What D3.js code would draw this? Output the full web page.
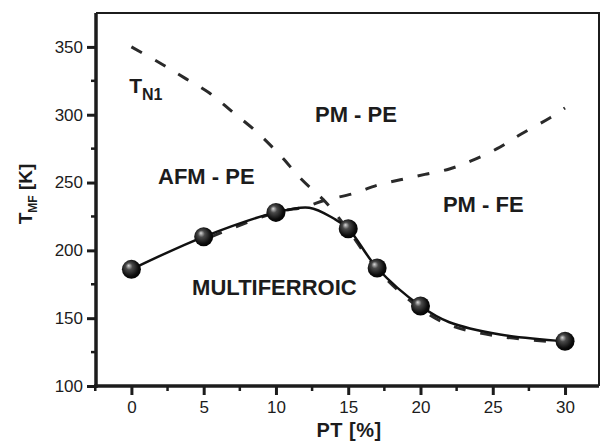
<!DOCTYPE html>
<html>
<head>
<meta charset="utf-8">
<script src="https://cdn.jsdelivr.net/npm/d3@7"></script>
<style>
  body { margin: 0; background: #fff; }
  svg { display: block; font-family: "Liberation Sans", Arial, sans-serif; }
</style>
</head>
<body>
<script>
// measured transition temperatures (balls)
const ptValues = [0, 5, 10, 15, 17, 20, 30];
const tmfValues = [186, 210, 228, 216, 187, 159, 133];

// solid guide line through the balls
const fitPt = [0, 5, 10, 12.3, 14, 15, 17, 20, 22, 25.5, 30];
const fitT = [186, 210, 228, 231.5, 223.5, 216, 187, 159, 147, 138, 133];

// T_N1 boundary (dashed, top left down to the right)
const tn1Pt = [0, 2, 3.7, 5.4, 7, 8.7, 10.3, 11.8, 13.4, 15, 17, 20, 22, 25.5, 30];
const tn1T = [350, 338, 327, 316, 302, 287, 270, 252, 236, 215, 186, 157, 145, 136.5, 132];

// PM-PE / PM-FE boundary (dashed, rising to the right)
const fePt = [5.5, 10, 12, 13.4, 15.4, 17, 18.6, 20.3, 22, 23.5, 25.3, 27, 29, 30];
const feT = [210, 228, 232, 237, 242, 248, 252, 256, 260, 266, 275, 286, 298, 305];

const xTicks = [0, 5, 10, 15, 20, 25, 30];
const xMinor = [-2.5, 2.5, 7.5, 12.5, 17.5, 22.5, 27.5];
const yTicks = [100, 150, 200, 250, 300, 350];
const yMinor = [125, 175, 225, 275, 325];

const labels = [
  {text: 'PM - PE', pt: 12.7, t: 295},
  {text: 'AFM - PE', pt: 1.84, t: 248.6},
  {text: 'PM - FE', pt: 21.55, t: 228.5},
  {text: 'MULTIFERROIC', pt: 4.2, t: 167}
];

const width = 601;
const height = 441;
const plotLeft = 96, plotRight = 599, plotTop = 13, plotBottom = 386;

const svg = d3.select('body').append('svg')
  .attr('width', width)
  .attr('height', height);

const x = d3.scaleLinear().domain([-2.45, 32.35]).range([plotLeft, plotRight]);
const y = d3.scaleLinear().domain([100, 375]).range([plotBottom, plotTop]);

const ink = '#1c1c1c';

// sphere gradient for markers
const grad = svg.append('defs').append('radialGradient')
  .attr('id', 'ball')
  .attr('cx', '45%').attr('cy', '45%').attr('r', '60%')
  .attr('fx', '35%').attr('fy', '30%');
grad.append('stop').attr('offset', '0%').attr('stop-color', '#d8d8d8');
grad.append('stop').attr('offset', '30%').attr('stop-color', '#4a4a4a');
grad.append('stop').attr('offset', '75%').attr('stop-color', '#0d0d0d');
grad.append('stop').attr('offset', '100%').attr('stop-color', '#000');

// frame: top and right thin, left and bottom thick
svg.append('path')
  .attr('d', `M${plotLeft},${plotTop}H${plotRight}V${plotBottom}`)
  .attr('fill', 'none').attr('stroke', ink).attr('stroke-width', 2);

// axes
const xAxis = d3.axisBottom(x).tickValues(xTicks).tickSize(9).tickPadding(6).tickSizeOuter(0);
const yAxis = d3.axisLeft(y).tickValues(yTicks).tickSize(9).tickPadding(4).tickSizeOuter(0);

const gx = svg.append('g').attr('transform', `translate(0,${plotBottom})`).call(xAxis);
const gy = svg.append('g').attr('transform', `translate(${plotLeft},0)`).call(yAxis);

[gx, gy].forEach(g => {
  g.select('.domain').attr('stroke', ink).attr('stroke-width', 3.5);
  g.selectAll('.tick line').attr('stroke', ink).attr('stroke-width', 3);
  g.selectAll('.tick text')
    .attr('fill', ink)
    .style('font-size', '17px')
    .style('font-family', '"Liberation Sans", Arial, sans-serif');
});
gx.select('.domain').attr('d', `M${plotLeft - 2},0H${plotRight}`);
gy.select('.domain').attr('d', `M0,${plotTop}V${plotBottom + 2}`);
gx.selectAll('.tick text').attr('dy', '0.71em');

svg.append('g').selectAll('line').data(xMinor).join('line')
  .attr('x1', d => x(d)).attr('x2', d => x(d))
  .attr('y1', plotBottom).attr('y2', plotBottom + 5)
  .attr('stroke', ink).attr('stroke-width', 2.5);
svg.append('g').selectAll('line').data(yMinor).join('line')
  .attr('x1', plotLeft).attr('x2', plotLeft - 5)
  .attr('y1', d => y(d)).attr('y2', d => y(d))
  .attr('stroke', ink).attr('stroke-width', 2.5);

// axis titles
svg.append('text')
  .attr('x', 349).attr('y', 437)
  .attr('text-anchor', 'middle')
  .attr('fill', ink)
  .style('font-size', '20px').style('font-weight', 'bold')
  .style('letter-spacing', '0.5px')
  .text('PT [%]');

const yTitle = svg.append('text')
  .attr('transform', 'translate(32,194) rotate(-90)')
  .attr('text-anchor', 'middle')
  .attr('fill', ink)
  .style('font-size', '19px').style('font-weight', 'bold');
yTitle.append('tspan').text('T');
yTitle.append('tspan').attr('dy', 5).style('font-size', '12px').text('MF');
yTitle.append('tspan').attr('dy', -5).text(' [K]');

// boundaries
const line = d3.line()
  .x(d => x(d[0]))
  .y(d => y(d[1]))
  .curve(d3.curveCatmullRom.alpha(0.5));

svg.append('path')
  .datum(d3.zip(tn1Pt, tn1T))
  .attr('d', line)
  .attr('fill', 'none').attr('stroke', '#2a2a2a')
  .attr('stroke-width', 3).attr('stroke-dasharray', '12,15');

svg.append('path')
  .datum(d3.zip(fePt, feT))
  .attr('d', line)
  .attr('fill', 'none').attr('stroke', '#2a2a2a')
  .attr('stroke-width', 3).attr('stroke-dasharray', '12,15');

svg.append('path')
  .datum(d3.zip(fitPt, fitT))
  .attr('d', line)
  .attr('fill', 'none').attr('stroke', '#111')
  .attr('stroke-width', 2.5);

svg.append('g').selectAll('circle').data(d3.zip(ptValues, tmfValues)).join('circle')
  .attr('cx', d => x(d[0]))
  .attr('cy', d => y(d[1]))
  .attr('r', 9.5)
  .attr('fill', 'url(#ball)');

// region labels
svg.append('g').selectAll('text').data(labels).join('text')
  .attr('x', d => x(d.pt))
  .attr('y', d => y(d.t))
  .attr('fill', ink)
  .style('font-size', '22px').style('font-weight', 'bold')
  .text(d => d.text);

const tn1 = svg.append('text')
  .attr('x', x(-0.15)).attr('y', y(316))
  .attr('fill', ink)
  .style('font-size', '21px').style('font-weight', 'bold');
tn1.append('tspan').text('T');
tn1.append('tspan').attr('dy', 7).style('font-size', '16px').text('N1');
</script>
</body>
</html>
